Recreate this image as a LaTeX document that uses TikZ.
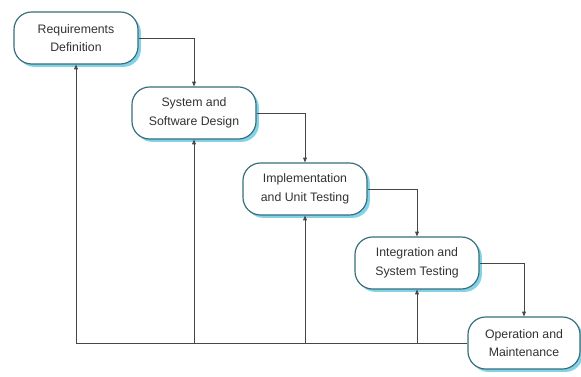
\documentclass[tikz,border=0pt]{standalone}
\usepackage{fontspec}
\setmainfont{Liberation Sans}
\usetikzlibrary{arrows.meta,shadows}
\definecolor{phaseline}{RGB}{55,110,122}
\definecolor{phaseglow}{RGB}{130,210,232}
\definecolor{flowline}{RGB}{70,70,70}
\definecolor{phasetext}{RGB}{50,50,50}
\tikzset{
  phase/.style={draw=phaseline, line width=1pt, fill=white, rounded corners=15pt,
    minimum width=3.72cm, minimum height=1.56cm, align=center, text=phasetext,
    font=\fontsize{10.5}{16}\selectfont,
    drop shadow={shadow xshift=2.5pt, shadow yshift=-2.5pt, fill=phaseglow, opacity=1}},
  flow/.style={draw=flowline, line width=0.6pt, -{Triangle[length=4pt,width=3.2pt]}}
}
\begin{document}
\begin{tikzpicture}[x=0.03cm,y=-0.03cm]
% 1 unit = 1px of the 581x377 frame
\useasboundingbox (0,0) rectangle (581,377);
\node[phase] (req) at (76,38)  {Requirements\\Definition};
\node[phase] (des) at (194,113) {System and\\Software Design};
\node[phase] (imp) at (305,189) {Implementation\\and Unit Testing};
\node[phase] (int) at (417,263) {Integration and\\System Testing};
\node[phase, minimum width=3.36cm] (ops) at (524,343) {Operation and\\Maintenance};
% down the waterfall
\draw[flow] (req.east) -| (des.north);
\draw[flow] (des.east) -| (imp.north);
\draw[flow] (imp.east) -| (int.north);
\draw[flow] (int.east) -| (ops.north);
% feedback along the bottom
\draw[draw=flowline, line width=0.6pt] (ops.west) -- (req.south |- ops.west);
\foreach \p in {req,des,imp,int}{
  \draw[flow] (\p.south |- ops.west) -- (\p.south);
}
\end{tikzpicture}
\end{document}
